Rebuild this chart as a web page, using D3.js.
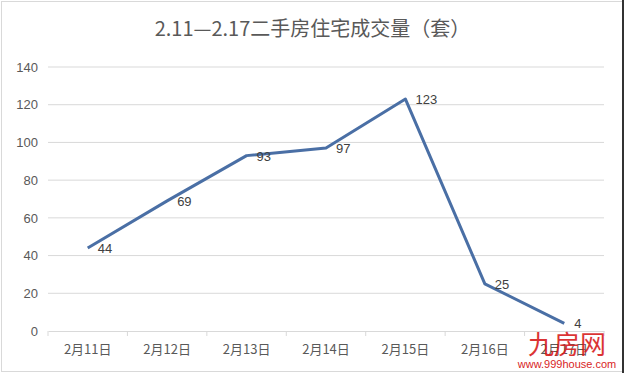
<!DOCTYPE html>
<html>
<head>
<meta charset="utf-8">
<script src="https://cdn.jsdelivr.net/npm/d3@7"></script>
<style>
  body { margin: 0; background: #fff; }
  text { font-family: "Noto Sans CJK SC", "Liberation Sans", sans-serif; }
</style>
</head>
<body>
<script>
// data
var categories = ["2月11日", "2月12日", "2月13日", "2月14日", "2月15日", "2月16日", "2月17日"];
var values = [44, 69, 93, 97, 123, 25, 4];
var yTicks = [0, 20, 40, 60, 80, 100, 120, 140];
var title = "2.11—2.17二手房住宅成交量（套）";

var full_width = 625, full_height = 373;
var margin = {top: 67, right: 21, bottom: 42, left: 48};
var width = full_width - margin.left - margin.right,
    height = full_height - margin.top - margin.bottom;

var svg = d3.select("body").append("svg")
  .attr("width", full_width)
  .attr("height", full_height);

// frame
svg.append("rect")
  .attr("x", 1.5).attr("y", 1.5)
  .attr("width", full_width - 4).attr("height", full_height - 3)
  .attr("fill", "#fff").attr("stroke", "#d9d9d9");
svg.append("line")
  .attr("x1", full_width - 2).attr("x2", full_width - 2)
  .attr("y1", 0).attr("y2", full_height)
  .attr("stroke", "#333").attr("stroke-width", 2);

svg.append("text")
  .attr("x", full_width / 2)
  .attr("y", 36)
  .attr("text-anchor", "middle")
  .attr("font-size", "20px")
  .attr("fill", "#595959")
  .text(title);

var g = svg.append("g")
  .attr("transform", "translate(" + margin.left + "," + margin.top + ")");

var x = d3.scaleBand().domain(categories).range([0, width]);
var y = d3.scaleLinear().domain([0, 140]).range([height, 0]);

// gridlines
g.selectAll(".grid")
  .data(yTicks.filter(function(d) { return d > 0; }))
  .enter().append("line")
  .attr("x1", 0).attr("x2", width)
  .attr("y1", function(d) { return y(d); })
  .attr("y2", function(d) { return y(d); })
  .attr("stroke", "#d9d9d9").attr("stroke-width", 1);

// y axis
var yAxis = g.append("g")
  .call(d3.axisLeft(y).tickValues(yTicks).tickSize(0).tickPadding(10));
yAxis.select(".domain").remove();
yAxis.selectAll("text").attr("font-size", "13px").attr("fill", "#595959")
  .style("font-family", "Liberation Sans, sans-serif");

// x axis
var xAxis = g.append("g")
  .attr("transform", "translate(0," + height + ")")
  .call(d3.axisBottom(x).tickSize(0).tickPadding(14));
xAxis.select(".domain").attr("stroke", "#d9d9d9");
xAxis.selectAll("text").attr("font-size", "13px").attr("fill", "#595959");
xAxis.selectAll(".sep")
  .data(d3.range(categories.length + 1))
  .enter().append("line")
  .attr("x1", function(i) { return i * x.bandwidth(); })
  .attr("x2", function(i) { return i * x.bandwidth(); })
  .attr("y1", 0).attr("y2", 5)
  .attr("stroke", "#d9d9d9");

// line
var line = d3.line()
  .x(function(d, i) { return x(categories[i]) + x.bandwidth() / 2; })
  .y(function(d) { return y(d); });

g.append("path")
  .datum(values)
  .attr("d", line)
  .attr("fill", "none")
  .attr("stroke", "#4a6fa5")
  .attr("stroke-width", 3)
  .attr("stroke-linejoin", "round");

// data labels
g.selectAll(".lbl")
  .data(values)
  .enter().append("text")
  .attr("x", function(d, i) { return x(categories[i]) + x.bandwidth() / 2 + 10; })
  .attr("y", function(d) { return y(d) + 5; })
  .attr("font-size", "13px")
  .attr("fill", "#404040")
  .style("font-family", "Liberation Sans, sans-serif")
  .text(function(d) { return d; });

// watermark
svg.append("text")
  .attr("x", 567).attr("y", 354)
  .attr("text-anchor", "middle")
  .attr("font-size", "26px")
  .attr("fill", "#d81e1e")
  .attr("opacity", 0.9)
  .text("九房网");
svg.append("text")
  .attr("x", 567).attr("y", 368)
  .attr("text-anchor", "middle")
  .attr("font-size", "11px")
  .attr("fill", "#d81e1e")
  .style("font-family", "Liberation Sans, sans-serif")
  .text("www.999house.com");
</script>
</body>
</html>
